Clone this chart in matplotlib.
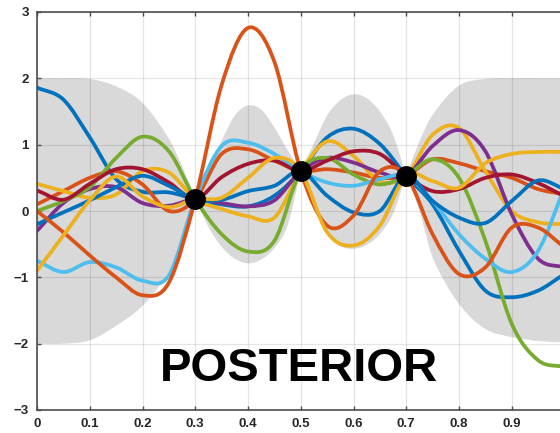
import numpy as np
import matplotlib
matplotlib.use("Agg")
import matplotlib.pyplot as plt
from matplotlib.path import Path
from matplotlib.patches import PathPatch

# sample grid shared by every curve
x = np.round(np.arange(0, 1.0001, 0.05), 2)

# observed points
obs_x = [0.3, 0.5, 0.7]
obs_y = [0.18, 0.60, 0.53]

# +/- 2 sigma band (upper / lower edge), finer grid near the observations
band_x = [0.0, 0.05, 0.1, 0.15, 0.2, 0.25, 0.275, 0.3, 0.325, 0.35, 0.375, 0.4,
          0.425, 0.45, 0.475, 0.5, 0.525, 0.55, 0.575, 0.6, 0.625, 0.65, 0.675,
          0.7, 0.725, 0.75, 0.8, 0.85, 0.9, 0.95, 1.0]
band_hi = [2.00, 2.00, 1.99, 1.88, 1.63, 1.09, 0.68, 0.18, 0.64, 1.06, 1.44, 1.59,
           1.53, 1.26, 0.92, 0.60, 1.02, 1.44, 1.67, 1.76, 1.70, 1.50, 1.15,
           0.53, 1.05, 1.45, 1.89, 1.99, 2.00, 2.00, 2.00]
band_lo = [-2.00, -2.00, -1.95, -1.73, -1.43, -0.92, -0.48, 0.18, -0.24, -0.54, -0.72, -0.79,
           -0.73, -0.56, -0.22, 0.60, 0.10, -0.34, -0.53, -0.57, -0.51, -0.35, -0.04,
           0.53, 0.00, -0.70, -1.40, -1.78, -1.90, -1.96, -1.98]

# posterior samples
blue_1 = [1.86, 1.68, 1.11, 0.48, 0.29, 0.28, 0.18, 0.10, 0.07, 0.23, 0.60,
          1.11, 1.24, 1.01, 0.53, 0.10, -0.60, -1.20, -1.30, -1.20, -0.95]
orange_1 = [0.10, 0.30, 0.50, 0.60, 0.40, 0.00, 0.18, 0.86, 0.93, 0.76, 0.60,
            0.63, 0.58, 0.50, 0.53, 0.78, 0.72, 0.60, 0.50, 0.33, 0.25]
yellow_1 = [0.41, 0.30, 0.20, 0.25, 0.60, 0.58, 0.18, 0.03, -0.08, -0.10, 0.60,
            1.05, 0.83, 0.45, 0.53, 1.15, 1.25, 0.60, 0.00, -0.17, -0.20]
purple = [-0.30, 0.12, 0.33, 0.36, 0.12, 0.08, 0.18, 0.12, 0.07, 0.16, 0.60,
          0.80, 0.73, 0.58, 0.53, 0.98, 1.22, 0.90, -0.05, -0.72, -0.85]
green = [0.00, 0.15, 0.36, 0.80, 1.12, 0.90, 0.18, -0.35, -0.61, -0.45, 0.60,
         0.80, 0.55, 0.40, 0.53, 0.78, 0.50, -0.45, -1.70, -2.25, -2.35]
light_blue = [-0.75, -0.92, -0.77, -0.85, -1.05, -0.97, 0.18, 0.98, 1.03, 0.86, 0.60,
              0.43, 0.38, 0.48, 0.53, 0.15, -0.35, -0.72, -0.92, -0.60, 0.35]
dark_red = [0.31, 0.17, 0.41, 0.63, 0.63, 0.43, 0.18, 0.51, 0.71, 0.76, 0.60,
            0.76, 0.90, 0.86, 0.53, 0.30, 0.33, 0.50, 0.55, 0.42, 0.22]
blue_2 = [-0.20, -0.02, 0.16, 0.36, 0.53, 0.38, 0.18, 0.17, 0.30, 0.38, 0.60,
          0.23, -0.02, 0.00, 0.53, 0.15, -0.10, -0.18, 0.15, 0.46, 0.33]
orange_2 = [0.00, -0.32, -0.67, -1.00, -1.27, -1.08, 0.18, 1.90, 2.76, 2.25, 0.60,
            -0.22, -0.07, 0.60, 0.53, -0.35, -0.95, -0.85, -0.25, -0.25, -0.55]
yellow_2 = [-0.90, -0.37, 0.16, 0.52, 0.22, 0.06, 0.18, 0.20, 0.50, 0.80, 0.60,
            -0.32, -0.52, -0.22, 0.53, 0.45, 0.35, 0.72, 0.86, 0.89, 0.89]

curves = [
    (blue_1, '#0072BD'), (orange_1, '#D95319'), (yellow_1, '#EDB120'),
    (purple, '#7E2F8E'), (green, '#77AC30'), (light_blue, '#4DBEEE'),
    (dark_red, '#A2142F'), (blue_2, '#0072BD'), (orange_2, '#D95319'),
    (yellow_2, '#EDB120'),
]


def bezier_pts(xs, ys):
    # cubic bezier control points for a smooth curve through (xs, ys)
    xs = np.asarray(xs, float)
    ys = np.asarray(ys, float)
    n = len(xs)
    m = np.empty(n)
    m[1:-1] = (ys[2:] - ys[:-2]) / (xs[2:] - xs[:-2])
    m[0] = (ys[1] - ys[0]) / (xs[1] - xs[0])
    m[-1] = (ys[-1] - ys[-2]) / (xs[-1] - xs[-2])
    pts = [(xs[0], ys[0])]
    for i in range(n - 1):
        h = xs[i + 1] - xs[i]
        pts.append((xs[i] + h / 3, ys[i] + m[i] * h / 3))
        pts.append((xs[i + 1] - h / 3, ys[i + 1] - m[i + 1] * h / 3))
        pts.append((xs[i + 1], ys[i + 1]))
    return pts


def curve_path(xs, ys):
    pts = bezier_pts(xs, ys)
    return Path(pts, [Path.MOVETO] + [Path.CURVE4] * (len(pts) - 1))


def band_edge(xs, ys, cuts):
    # band edge pinches at each observation, so split there
    xs = list(xs)
    idx = [0] + [xs.index(c) for c in cuts] + [len(xs) - 1]
    pts = []
    for a, b in zip(idx[:-1], idx[1:]):
        seg = bezier_pts(xs[a:b + 1], ys[a:b + 1])
        pts += seg if not pts else seg[1:]
    return pts


plt.rcParams['font.family'] = ['Liberation Sans', 'DejaVu Sans']

fig = plt.figure(figsize=(5.6, 4.33), dpi=100)
ax = fig.add_axes([37 / 560, 23 / 433, 527.5 / 560, 398 / 433])

upper = band_edge(band_x, band_hi, obs_x)
lower = band_edge(band_x, band_lo, obs_x)[::-1]
verts = upper + lower + [upper[0]]
codes = ([Path.MOVETO] + [Path.CURVE4] * (len(upper) - 1) + [Path.LINETO]
         + [Path.CURVE4] * (len(lower) - 1) + [Path.CLOSEPOLY])
ax.add_patch(PathPatch(Path(verts, codes), facecolor='#d9d9d9',
                       edgecolor='none', zorder=0.3))

for ys, col in curves:
    ax.add_patch(PathPatch(curve_path(x, ys), facecolor='none', edgecolor=col,
                           lw=2.7, capstyle='round', joinstyle='round', zorder=2))

ax.plot(obs_x, obs_y, 'o', color='black', ms=14, zorder=3)

ax.text(0.497, -2.56, 'POSTERIOR', fontsize=34, fontweight='bold',
        ha='center', va='baseline', color='black', zorder=4)

ax.set_xlim(0, 1)
ax.set_ylim(-3, 3)
ax.set_xticks(np.arange(0, 1.01, 0.1))
# the last label falls outside the figure, so leave it empty
ax.set_xticklabels(['0', '0.1', '0.2', '0.3', '0.4', '0.5', '0.6', '0.7',
                    '0.8', '0.9', ''])
ax.set_yticks(range(-3, 4))
ax.set_axisbelow(True)
ax.grid(True, color='black', alpha=0.1, lw=0.9)
ax.tick_params(direction='in', length=3, width=1, color='#4d4d4d',
               labelcolor='#262626', labelsize=9.5, top=True, pad=6)
for lbl in ax.get_xticklabels() + ax.get_yticklabels():
    lbl.set_fontweight('bold')
for s in ax.spines.values():
    s.set_color('#4d4d4d')
    s.set_linewidth(1.2)

fig.savefig('out.png', dpi=100)
